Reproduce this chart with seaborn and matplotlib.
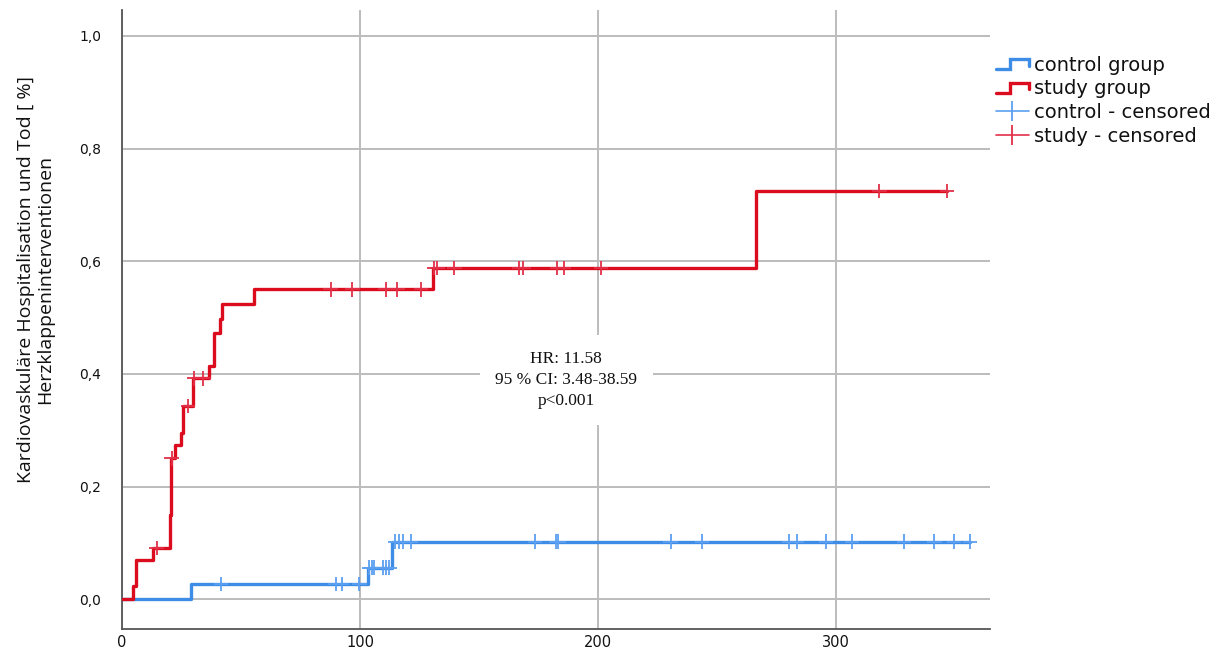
import numpy as np
import pandas as pd
import matplotlib
matplotlib.use("Agg")
import matplotlib.pyplot as plt
import seaborn as sns
from matplotlib.legend_handler import HandlerBase
from matplotlib.lines import Line2D

# Cumulative incidence after each event (step values), per group
control_event_days = [0, 29.0, 103.2, 113.3]
control_event_vals = [0.0, 0.027, 0.0557, 0.102]
control_end_day = 356.3
control_censored_days = [41.6, 89.8, 92.4, 99.7, 103.9, 104.9, 106.0, 109.8,
                         110.9, 112.3, 114.7, 116.4, 118.2, 121.4, 173.5, 182.4,
                         183.3, 230.5, 243.6, 280.4, 283.5, 295.7, 306.6, 328.6,
                         341.3, 349.6, 356.3]

study_event_days = [0, 4.8, 5.8, 13.2, 20.0, 20.8, 22.3, 24.7, 25.5, 29.8,
                    36.4, 38.5, 41.1, 41.9, 55.6, 130.8, 266.4]
study_event_vals = [0.0, 0.023, 0.069, 0.091, 0.15, 0.25, 0.274, 0.295, 0.343,
                    0.392, 0.414, 0.472, 0.497, 0.524, 0.550, 0.588, 0.725]
study_end_day = 346.5
study_censored_days = [14.6, 20.9, 27.8, 30.3, 34.2, 87.7, 96.8, 110.8, 115.7,
                       125.6, 131.2, 132.5, 139.6, 166.8, 168.6, 182.9, 185.7,
                       201.3, 318.2, 346.5]

group_names = ["control group", "study group"]
censor_names = ["control - censored", "study - censored"]
y_ticks = [0.0, 0.2, 0.4, 0.6, 0.8, 1.0]
x_ticks = [0, 100, 200, 300]
annotation = "HR: 11.58\n95 % CI: 3.48-38.59\np<0.001"
y_label = "Kardiovaskuläre Hospitalisation und Tod [ %]\nHerzklappeninterventionen"

line_colors = {"control group": "#3d8de6", "study group": "#dc0c1f"}
censor_colors = {"control group": "#5b9ff0", "study group": "#e23048"}


def step_frame(name, days, vals, end):
    d = list(days) + [end]
    v = list(vals) + [vals[-1]]
    return pd.DataFrame({"day": d, "value": v, "group": name})


def censor_frame(name, days, vals, cdays):
    idx = np.searchsorted(np.array(days), np.array(cdays), side="right") - 1
    return pd.DataFrame({"day": cdays, "value": np.array(vals)[idx], "group": name})


steps = pd.concat([
    step_frame("control group", control_event_days, control_event_vals, control_end_day),
    step_frame("study group", study_event_days, study_event_vals, study_end_day),
])
censored = pd.concat([
    censor_frame("control group", control_event_days, control_event_vals, control_censored_days),
    censor_frame("study group", study_event_days, study_event_vals, study_censored_days),
])

sns.set_theme(style="white")
plt.rcParams["font.family"] = ["DejaVu Sans"]

fig = plt.figure(figsize=(12.21, 6.55), dpi=100)
ax = fig.add_axes([0.0999, 0.0397, 0.711, 0.945])

ax.grid(True, color="#bcbcbc", linewidth=1.4)
ax.set_axisbelow(True)

sns.lineplot(data=steps, x="day", y="value", hue="group", palette=line_colors,
             estimator=None, sort=False, drawstyle="steps-post", linewidth=2.4,
             legend=False, ax=ax, zorder=3)
sns.scatterplot(data=censored, x="day", y="value", hue="group", palette=censor_colors,
                marker="+", s=110, linewidth=1.3, legend=False, ax=ax, zorder=4)

ax.set_xlim(0, 364.7)
ax.set_ylim(-0.053, 1.046)
ax.set_xticks(x_ticks)
ax.set_yticks(y_ticks)
ax.set_xticklabels([str(t) for t in x_ticks], fontsize=10.5, color="#111111")
ax.set_yticklabels([f"{t:.1f}".replace(".", ",") for t in y_ticks], fontsize=10, color="#111111")
ax.tick_params(axis="x", length=0, pad=4)
ax.tick_params(axis="y", length=5, color="#999999", pad=10)
ax.set_xlabel("")
ax.set_ylabel(y_label, family="Open Sans", fontsize=14, linespacing=1.1, color="#111111")
ax.yaxis.set_label_coords(-0.078, 0.565)

for side in ["top", "right"]:
    ax.spines[side].set_visible(False)
for side in ["left", "bottom"]:
    ax.spines[side].set_color("#555555")
    ax.spines[side].set_linewidth(1.3)

ax.text(186.6, 0.389, annotation, ha="center", va="center", family="Liberation Serif",
        fontsize=12.5, linespacing=1.45, zorder=5, color="#111111",
        bbox=dict(boxstyle="square,pad=0.9", facecolor="white", edgecolor="none"))


class StepHandler(HandlerBase):
    def create_artists(self, legend, orig_handle, xdescent, ydescent, width, height,
                       fontsize, trans):
        x0, y0 = -xdescent, -ydescent
        xs = [x0, x0 + 0.45 * width, x0 + 0.45 * width, x0 + width, x0 + width]
        ys = [y0 + 0.1 * height, y0 + 0.1 * height, y0 + 0.85 * height,
              y0 + 0.85 * height, y0 + 0.35 * height]
        line = Line2D(xs, ys, color=orig_handle.get_color(), linewidth=2.4,
                      solid_joinstyle="miter", transform=trans)
        return [line]


handles = [
    Line2D([], [], color=line_colors["control group"]),
    Line2D([], [], color=line_colors["study group"]),
    Line2D([], [], color=censor_colors["control group"], linewidth=1.2, marker="|",
           markersize=15, markeredgewidth=1.3),
    Line2D([], [], color=censor_colors["study group"], linewidth=1.2, marker="|",
           markersize=15, markeredgewidth=1.3),
]
labels = group_names + censor_names
leg = fig.legend(handles, labels, loc="upper left", bbox_to_anchor=(0.809, 0.927),
                 frameon=False, fontsize=14, handlelength=1.7, handletextpad=0.3,
                 labelspacing=0.24, borderaxespad=0,
                 handler_map={handles[0]: StepHandler(), handles[1]: StepHandler()})
for t in leg.get_texts():
    t.set_color("#111111")

fig.savefig("out.png", dpi=100)
